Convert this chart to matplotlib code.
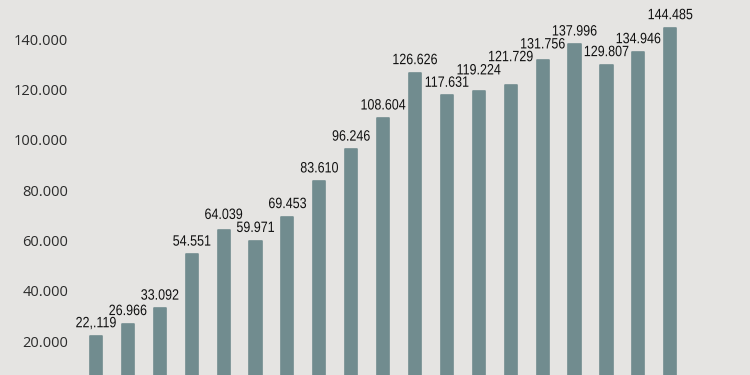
import matplotlib
matplotlib.use("Agg")
import matplotlib.pyplot as plt
from matplotlib.patheffects import AbstractPathEffect
from matplotlib.transforms import Affine2D

# Values (left to right)
VALUES = [
    22119, 26966, 33092, 54551, 64039, 59971, 69453, 83610, 96246, 108604,
    126626, 117631, 119224, 121729, 131756, 137996, 129807, 134946, 144485,
]
# Labels as printed on the chart (the first one has a stray comma)
VALUE_LABELS = [
    "22,.119", "26.966", "33.092", "54.551", "64.039", "59.971", "69.453",
    "83.610", "96.246", "108.604", "126.626", "117.631", "119.224", "121.729",
    "131.756", "137.996", "129.807", "134.946", "144.485",
]
Y_TICKS = [20000, 40000, 60000, 80000, 100000, 120000, 140000]
Y_TICK_LABELS = ["20.000", "40.000", "60.000", "80.000", "100.000", "120.000", "140.000"]

BG_COLOR = "#e5e4e2"
BAR_COLOR = "#718c8f"
TEXT_COLOR = "#2b2b2b"


class Tall(AbstractPathEffect):
    # Stretch glyphs upward from the baseline to fake a condensed face
    def __init__(self, sy=1.2):
        super().__init__()
        self.sy = sy

    def draw_path(self, renderer, gc, tpath, affine, rgbFace=None):
        renderer.draw_path(gc, tpath, Affine2D().scale(1, self.sy) + affine, rgbFace)


def main() -> None:
    fig = plt.figure(figsize=(7.5, 3.75), dpi=100)
    fig.patch.set_facecolor(BG_COLOR)
    ax = fig.add_axes([0, 0, 1, 1])
    ax.set_facecolor(BG_COLOR)

    x = list(range(len(VALUES)))
    ax.bar(
        x, VALUES, width=0.38, color=BAR_COLOR, edgecolor=BAR_COLOR,
        linewidth=1.2, joinstyle="round",
    )

    # Value labels above each bar
    labels = []
    for xi, val, lab in zip(x, VALUES, VALUE_LABELS):
        a = ax.annotate(
            lab, (xi, val), xytext=(0, 4), textcoords="offset points",
            ha="center", va="bottom", fontsize=9, color="#111111",
            family=["Liberation Sans", "DejaVu Sans"],
            path_effects=[Tall(1.2)],
        )
        labels.append(a)

    ax.set_xlim(-3.01, 20.5)
    ax.set_ylim(6560, 155500)

    ax.set_yticks(Y_TICKS)
    ax.set_yticklabels(Y_TICK_LABELS)
    ax.tick_params(axis="y", length=0, pad=-49, labelsize=10.5, labelcolor=TEXT_COLOR)
    for t in ax.get_yticklabels():
        t.set_family(["Open Sans", "DejaVu Sans"])
    ax.set_xticks([])

    for side in ax.spines.values():
        side.set_visible(False)

    # When two neighbouring labels collide, lift the one on the taller bar
    fig.canvas.draw()
    renderer = fig.canvas.get_renderer()
    offsets = [4.0] * len(labels)
    for _ in range(300):
        boxes = [a.get_window_extent(renderer) for a in labels]
        hit = None
        for i in range(len(boxes) - 1):
            if boxes[i].overlaps(boxes[i + 1]):
                hit = i if VALUES[i] >= VALUES[i + 1] else i + 1
                break
        if hit is None:
            break
        offsets[hit] += 1
        labels[hit].xyann = (0, offsets[hit])

    plt.savefig("out.png", dpi=100, facecolor=BG_COLOR)


if __name__ == "__main__":
    main()
